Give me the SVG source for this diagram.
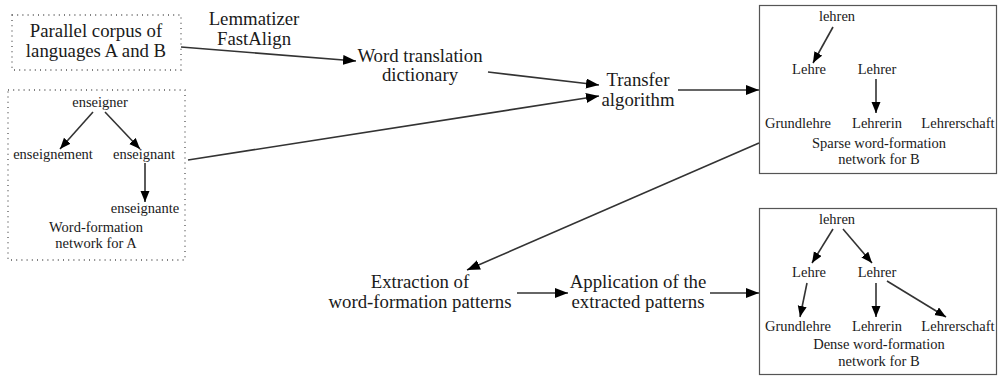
<svg xmlns="http://www.w3.org/2000/svg" width="998" height="376" viewBox="0 0 998 376">
<style>
.e{stroke:#333;stroke-width:1.6;fill:none}
.dot{fill:none;stroke:#555;stroke-width:1.3;stroke-dasharray:1 4.2}
.box{fill:none;stroke:#555;stroke-width:1.2}
</style>
<defs>
<marker id="ah" markerUnits="userSpaceOnUse" markerWidth="14" markerHeight="12" refX="13" refY="5" orient="auto">
<path d="M0,0 L13,5 L0,10 z" fill="#000"/>
</marker>
<marker id="as" markerUnits="userSpaceOnUse" markerWidth="12" markerHeight="10" refX="11" refY="4.5" orient="auto">
<path d="M0,0 L11,4.5 L0,9 z" fill="#000"/>
</marker>
</defs>
<rect width="998" height="376" fill="#fff"/>
<g id="connectors">
<line class="e" x1="181" y1="47" x2="356" y2="61" marker-end="url(#ah)"/>
<line class="e" x1="488" y1="72" x2="599" y2="85" marker-end="url(#ah)"/>
<line class="e" x1="188" y1="160" x2="599" y2="96" marker-end="url(#ah)"/>
<line class="e" x1="678" y1="90" x2="759" y2="90" marker-end="url(#ah)"/>
<line class="e" x1="759" y1="143" x2="467" y2="270" marker-end="url(#ah)"/>
<line class="e" x1="517" y1="293" x2="568" y2="293" marker-end="url(#ah)"/>
<line class="e" x1="710" y1="293" x2="759" y2="293" marker-end="url(#ah)"/>
<line class="e" x1="93" y1="112" x2="60" y2="149" marker-end="url(#as)"/>
<line class="e" x1="105" y1="112" x2="140" y2="149" marker-end="url(#as)"/>
<line class="e" x1="145" y1="163" x2="145" y2="202" marker-end="url(#as)"/>
<line class="e" x1="833" y1="27" x2="813" y2="63" marker-end="url(#as)"/>
<line class="e" x1="876" y1="79" x2="876" y2="113" marker-end="url(#as)"/>
<line class="e" x1="833" y1="229" x2="812" y2="263" marker-end="url(#as)"/>
<line class="e" x1="843" y1="229" x2="872" y2="263" marker-end="url(#as)"/>
<line class="e" x1="807" y1="283" x2="800" y2="317" marker-end="url(#as)"/>
<line class="e" x1="876" y1="283" x2="876" y2="317" marker-end="url(#as)"/>
<line class="e" x1="887" y1="281" x2="946" y2="317" marker-end="url(#as)"/>
</g>
<g id="corpus">
<rect class="dot" x="12" y="15" width="169" height="55"/>
<g font-family="Liberation Serif" font-size="18.8" fill="#1a1a1a" text-anchor="middle">
<text x="96" y="37">Parallel corpus of</text>
<text x="96" y="57">languages A and B</text>
</g>
</g>
<g id="tools" font-family="Liberation Serif" font-size="18.8" fill="#1a1a1a" text-anchor="middle">
<text x="254" y="25">Lemmatizer</text>
<text x="254" y="45">FastAlign</text>
</g>
<g id="dictionary" font-family="Liberation Serif" font-size="18.8" fill="#1a1a1a" text-anchor="middle">
<text x="420" y="62">Word translation</text>
<text x="420" y="81">dictionary</text>
</g>
<g id="transfer" font-family="Liberation Serif" font-size="18.8" fill="#1a1a1a" text-anchor="middle">
<text x="638" y="86">Transfer</text>
<text x="638" y="106">algorithm</text>
</g>
<g id="networkA">
<rect class="dot" x="8" y="90" width="177" height="170"/>
<g font-family="Liberation Serif" font-size="14.5" fill="#1a1a1a" text-anchor="middle">
<text x="100" y="107">enseigner</text>
<text x="53" y="159">enseignement</text>
<text x="144" y="159">enseignant</text>
<text x="145" y="213">enseignante</text>
<text x="96" y="232">Word-formation</text>
<text x="96" y="248">network for A</text>
</g>
</g>
<g id="sparseB">
<rect class="box" x="759.5" y="5.5" width="237" height="168"/>
<g font-family="Liberation Serif" font-size="14.5" fill="#1a1a1a" text-anchor="middle">
<text x="837" y="21">lehren</text>
<text x="809" y="74">Lehre</text>
<text x="877" y="74">Lehrer</text>
<text x="798" y="128">Grundlehre</text>
<text x="877" y="128">Lehrerin</text>
<text x="958" y="128">Lehrerschaft</text>
<text x="879" y="148">Sparse word-formation</text>
<text x="879" y="164">network for B</text>
</g>
</g>
<g id="extraction" font-family="Liberation Serif" font-size="18.8" fill="#1a1a1a" text-anchor="middle">
<text x="420" y="288">Extraction of</text>
<text x="420" y="308">word-formation patterns</text>
</g>
<g id="application" font-family="Liberation Serif" font-size="18.8" fill="#1a1a1a" text-anchor="middle">
<text x="638" y="288">Application of the</text>
<text x="638" y="308">extracted patterns</text>
</g>
<g id="denseB">
<rect class="box" x="759.5" y="208.5" width="237" height="166"/>
<g font-family="Liberation Serif" font-size="14.5" fill="#1a1a1a" text-anchor="middle">
<text x="837" y="224">lehren</text>
<text x="809" y="277">Lehre</text>
<text x="877" y="277">Lehrer</text>
<text x="798" y="331">Grundlehre</text>
<text x="877" y="331">Lehrerin</text>
<text x="958" y="331">Lehrerschaft</text>
<text x="879" y="349">Dense word-formation</text>
<text x="879" y="366">network for B</text>
</g>
</g>
</svg>
